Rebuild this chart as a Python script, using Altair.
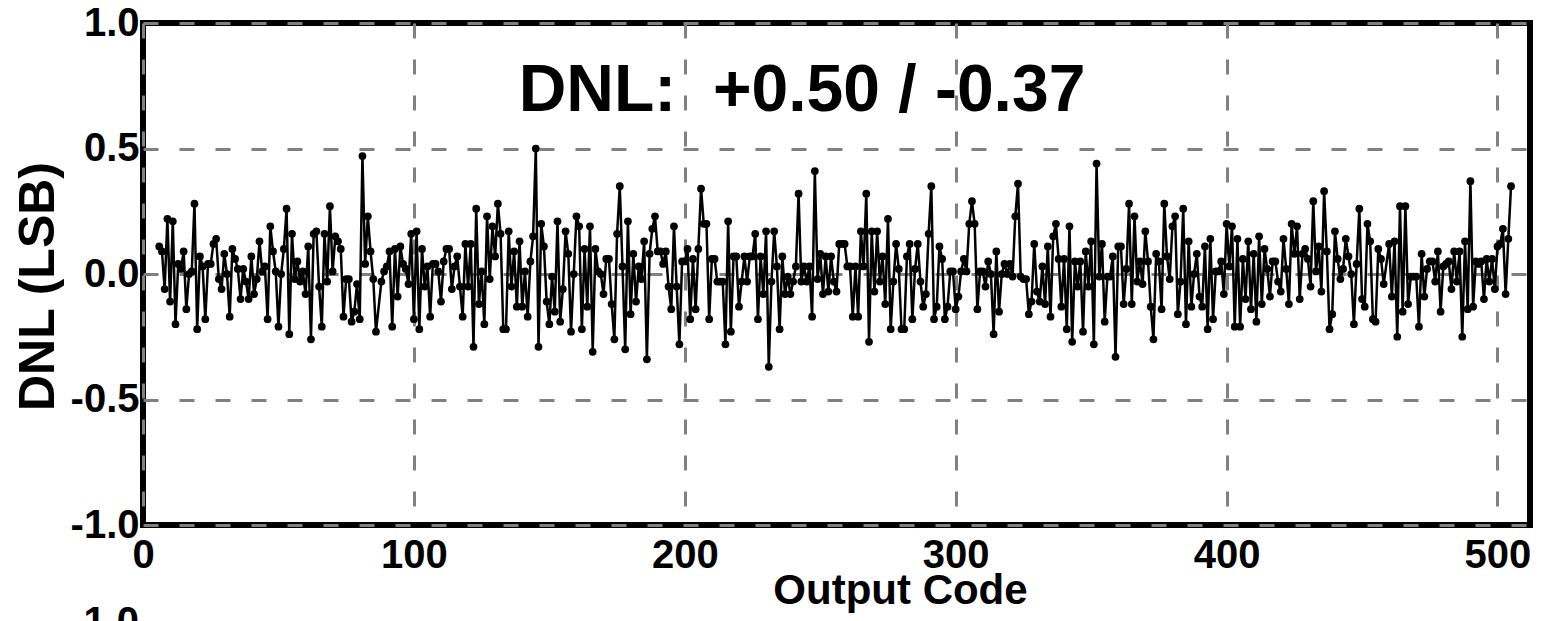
import altair as alt
import pandas as pd

# DNL readings, grouped in runs of consecutive output codes (start code, values)
start_a = 6
dnl_a = [0.11, 0.09, -0.06, 0.22, -0.11, 0.21, -0.20, 0.04, 0.02, 0.09, -0.14, 0.00, 0.01, 0.28, -0.22, 0.07,
         0.03, -0.18, 0.04, 0.04, 0.12, 0.14, -0.02, -0.06, 0.08, 0.00, -0.17, 0.10, 0.06, 0.02, -0.10, 0.02,
         -0.03, -0.10, 0.07, -0.08, -0.02, 0.13, 0.01]
start_b = 45
dnl_b = [0.03, -0.18, 0.19, 0.09, 0.01, -0.21, 0.00, 0.10, 0.26, -0.24, 0.16, -0.02, 0.05, -0.03, 0.01, -0.08,
         0.11, -0.26, 0.16, 0.17, -0.05, -0.21, 0.16, -0.03, 0.27, 0.01, 0.15, 0.13, 0.10, -0.17, -0.02, -0.02,
         -0.19, -0.15, -0.04, -0.18, 0.47, 0.04, 0.23, 0.09, -0.02, -0.23]
start_c = 88
dnl_c = [-0.03, 0.01, 0.03, 0.09, -0.21, 0.10, -0.09, 0.11, 0.04, 0.02, -0.04, 0.16, -0.18, 0.17, -0.22, 0.10,
         -0.05, 0.03, -0.17, 0.04, 0.04, 0.01, -0.11, 0.05, 0.10, 0.10, -0.06, 0.03, 0.07, -0.05, -0.17, 0.12,
         -0.05, 0.12, -0.29, 0.26, -0.12, 0.01, -0.20, 0.23]
start_d = 128
dnl_d = [-0.02, 0.19, 0.07, 0.28, 0.16, -0.22, -0.22, 0.17, -0.05, 0.09, -0.13, 0.13, -0.13, 0.01, -0.17, 0.05,
         0.15, 0.50, -0.29, 0.20, 0.11, -0.11, -0.20, -0.01, -0.15, 0.21, -0.19, -0.06, 0.17, 0.08, -0.23, 0.00,
         0.23, 0.19, -0.22, 0.10, -0.13, 0.19, -0.31, 0.10, 0.01]
start_e = 169
dnl_e = [0.00, -0.08, 0.06, 0.06, -0.12, -0.26, 0.16, 0.35, 0.03, -0.30, 0.21, -0.16, 0.08, -0.11, 0.03, -0.02,
         0.13, -0.34, 0.08, 0.18, 0.23, 0.09, 0.09, 0.04, 0.09, -0.05, -0.14, 0.19, -0.05, -0.28, 0.05, 0.05,
         0.10, -0.18, 0.06, -0.14, 0.10, 0.34, 0.20, 0.20, -0.18, 0.06]
start_f = 211
dnl_f = [0.06, -0.03, -0.03, -0.03, -0.28, 0.21, -0.23, 0.07, 0.07, -0.13, -0.03, 0.07, -0.03, 0.07, 0.07, 0.16,
         -0.18, 0.07, -0.08, 0.17, -0.37, -0.03, 0.17, 0.03, -0.22, 0.07, -0.08, -0.01, -0.08, -0.03, 0.03, 0.32,
         -0.03, 0.03, -0.03, 0.03, -0.17, 0.41, -0.02, 0.08, -0.08, 0.07]
start_g = 253
dnl_g = [-0.07, 0.07, -0.03, -0.07, 0.12, 0.12, 0.12, 0.03, 0.03, -0.17, 0.03, -0.17, 0.17, 0.03, 0.32, -0.27,
         0.17, -0.07, 0.17, -0.03, 0.07, -0.12, 0.22, -0.22, -0.03, 0.12, 0.02, -0.22, -0.22, 0.07, 0.12, -0.18,
         0.02, 0.12, -0.03, -0.13, -0.08, 0.16, 0.35, -0.18, -0.13, 0.11]
start_h = 295
dnl_h = [0.06, -0.18, -0.13, 0.01, 0.01, -0.14, -0.09, 0.01, 0.06, 0.01, 0.20, 0.29, 0.20, -0.14, 0.01, 0.01,
         -0.05, 0.05, 0.00, -0.24, 0.09, -0.15, 0.00, 0.04, 0.00, 0.04, -0.01, 0.23, 0.36, -0.01, -0.02, -0.02,
         -0.16, -0.11, 0.12, -0.07, -0.11, 0.03, -0.12, 0.11, -0.17, 0.15]
start_i = 337
dnl_i = [0.20, 0.06, -0.13, 0.06, -0.22, 0.19, -0.27, 0.05, -0.05, 0.05, -0.23, 0.09, -0.05, 0.13, -0.28, 0.44,
         -0.01, 0.12, -0.19, -0.01, -0.01, 0.07, -0.33, 0.11, 0.11, -0.12, 0.02, 0.28, -0.12, 0.23, -0.03, 0.05,
         -0.04, 0.17, 0.05, -0.13, -0.26, 0.08, 0.05, -0.14, 0.28]
start_j = 378
dnl_j = [0.07, -0.02, 0.19, 0.23, -0.16, -0.03, 0.26, -0.20, 0.13, -0.13, 0.00, 0.08, -0.09, -0.13, 0.11, -0.22,
         0.14, -0.18, 0.01, 0.01, 0.05, -0.08, 0.20, 0.03, 0.19, -0.21, 0.14, -0.21, 0.06, -0.10, 0.13, -0.14,
         0.08, -0.19, 0.15, -0.12, 0.10, 0.02, -0.09, 0.05]
start_k = 418
dnl_k = [0.05, -0.03, -0.07, 0.14, 0.02, -0.12, 0.20, 0.08, 0.19, -0.10, 0.08, 0.10, 0.06, -0.05, 0.29, 0.01,
         0.11, -0.07, 0.33, 0.09, -0.22, -0.16, 0.17, 0.06, -0.02, 0.02, 0.14, 0.07, 0.00, -0.20, 0.04, 0.26,
         -0.10, -0.13, 0.20, 0.13, -0.18, -0.19, 0.10, 0.06, -0.04]
start_l = 460
dnl_l = [0.12, -0.09, 0.13, -0.25, 0.27, -0.15, 0.27, -0.12, -0.01, -0.01, -0.01, -0.21, 0.08, -0.09, 0.02, 0.05,
         0.05, -0.03, 0.09, -0.15, 0.03, 0.04, 0.05, -0.06, 0.09, -0.03, 0.09, -0.25, 0.13, -0.14, 0.37, -0.13,
         0.05, 0.04, 0.05, -0.10, 0.06, -0.03, 0.06, -0.06, 0.11, 0.12, 0.18, -0.08, 0.14, 0.35]

x_ticks = [0, 100, 200, 300, 400, 500]
y_ticks = [-1.0, -0.5, 0.0, 0.5, 1.0]
title_text = "DNL:\u00a0 +0.50 / -0.37"

runs = [(start_a, dnl_a), (start_b, dnl_b), (start_c, dnl_c), (start_d, dnl_d), (start_e, dnl_e),
        (start_f, dnl_f), (start_g, dnl_g), (start_h, dnl_h), (start_i, dnl_i), (start_j, dnl_j),
        (start_k, dnl_k), (start_l, dnl_l)]
rows = []
for s, vals in runs:
    for i, v in enumerate(vals):
        rows.append({"code": s + i, "dnl": v})
df = pd.DataFrame(rows)

FONT = "Liberation Sans"
W, H = 1387, 502

x_enc = alt.X("code:Q", scale=alt.Scale(domain=[0, 512], nice=False, zero=False),
              axis=alt.Axis(values=x_ticks, title="Output Code", grid=True,
                            gridDash=[15, 21], gridColor="#808080", gridWidth=3,
                            ticks=False, tickSize=0, domain=False, labelPadding=10,
                            labelFont=FONT, labelFontSize=40, labelFontWeight="bold",
                            labelColor="black", labelFlush=False, labelBaseline="top",
                            titleFont=FONT, titleFontSize=42, titleFontWeight="bold",
                            titleColor="black", titleX=757, titleY=78, titleBaseline="alphabetic"))
y_enc = alt.Y("dnl:Q", scale=alt.Scale(domain=[-1, 1], nice=False, zero=False),
              axis=alt.Axis(values=y_ticks, title="DNL (LSB)", grid=True,
                            gridDash=[15, 21], gridColor="#808080", gridWidth=3,
                            ticks=False, tickSize=0, domain=False, labelPadding=4,
                            labelExpr="datum.value < 0 ? '-' + format(-datum.value, '.1f') : format(datum.value, '.1f')",
                            labelFont=FONT, labelFontSize=40, labelFontWeight="bold",
                            labelColor="black", labelFlush=False,
                            titleFont=FONT, titleFontSize=50, titleFontWeight="bold",
                            titleColor="black", titleAngle=270, titleX=-105, titleY=263,
                            titleAlign="center", titleBaseline="middle"))

base = alt.Chart(df)
line = base.mark_line(color="black", strokeWidth=2.5).encode(x=x_enc, y=y_enc)
pts = base.mark_point(filled=True, color="black", size=60, opacity=1).encode(x="code:Q", y="dnl:Q")

title = alt.Chart(pd.DataFrame({"t": [title_text]})).mark_text(
    font=FONT, fontSize=66, fontWeight="bold", color="black", align="center", baseline="alphabetic"
).encode(text="t:N", x=alt.value(659), y=alt.value(88))

next_label = alt.Chart(pd.DataFrame({"t": ["1.0"]})).mark_text(
    font=FONT, fontSize=40, fontWeight="bold", color="black", align="right", baseline="middle", clip=False
).encode(text="t:N", x=alt.value(-4), y=alt.value(600))

chart = alt.layer(line, pts, title, next_label).properties(
    width=W, height=H,
    autosize=alt.AutoSizeParams(type="none"),
    padding={"left": 143, "top": 23, "right": 16, "bottom": 96},
    background="white",
).configure_view(stroke="black", strokeWidth=6)

chart.save("out.html", embed_options={"renderer": "svg", "actions": False})
